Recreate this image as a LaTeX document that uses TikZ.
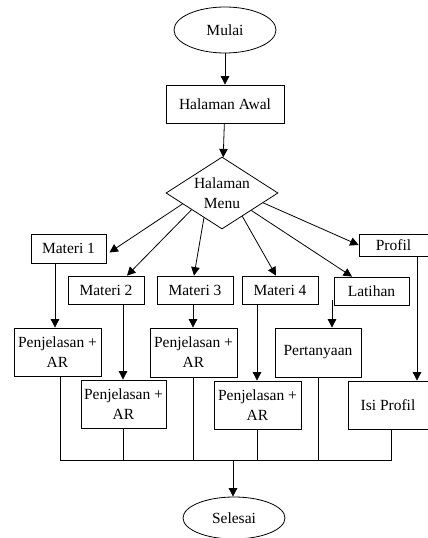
\documentclass[tikz,border=0pt]{standalone}
\usepackage{fontspec}
\setmainfont{Liberation Serif}
\usetikzlibrary{shapes.geometric,arrows.meta,calc}
\begin{document}
\begin{tikzpicture}[x=1pt,y=-1pt,
  every node/.style={font=\fontsize{15.5}{20}\selectfont, inner sep=0pt, align=center},
  box/.style={draw, line width=0.8pt, rectangle},
  oval/.style={draw, line width=0.8pt, ellipse},
  dec/.style={draw, line width=0.8pt, diamond},
  arr/.style={line width=0.8pt, -{Triangle[length=8.5pt,width=8.5pt]}},
  ln/.style={line width=0.8pt}]
\useasboundingbox (0,0) rectangle (428,538);
\clip (0,0) rectangle (428,538);
% nodes
\node[oval, minimum width=102pt, minimum height=46pt] (mulai) at (225,30) {Mulai};
\node[box, minimum width=118pt, minimum height=38pt] (awal) at (225,104) {Halaman Awal};
\node[dec, minimum width=112pt, minimum height=72pt, aspect=1.55] (menu) at (222,193) {};
\node at (222,183) {Halaman};
\node at (222,203) {Menu};
\node[box, minimum width=75pt, minimum height=29pt] (m1) at (68.5,248.5) {Materi 1};
\node[box, minimum width=76pt, minimum height=28pt] (m2) at (106,290) {Materi 2};
\node[box, minimum width=76pt, minimum height=28pt] (m3) at (195,290) {Materi 3};
\node[box, minimum width=76pt, minimum height=28pt] (m4) at (280,290) {Materi 4};
\node[box, minimum width=75pt, minimum height=28pt] (lat) at (371.5,291) {Latihan};
\node[box, minimum width=69pt, minimum height=22pt] (prof) at (393.5,245) {Profil};
\node[box, minimum width=87pt, minimum height=48pt] (p1) at (57.5,352) {Penjelasan +\\AR};
\node[box, minimum width=85pt, minimum height=48pt] (p2) at (123.5,404) {Penjelasan +\\AR};
\node[box, minimum width=87pt, minimum height=49pt] (p3) at (193.5,352.5) {Penjelasan +\\AR};
\node[box, minimum width=87pt, minimum height=48pt] (p4) at (257.5,405) {Penjelasan +\\AR};
\node[box, minimum width=86pt, minimum height=49pt] (pert) at (318,352.5) {Pertanyaan};
\node[box, minimum width=80pt, minimum height=48pt] (isi) at (388,405) {Isi Profil};
\node[oval, minimum width=102pt, minimum height=42pt] (sel) at (234,518) {Selesai};
\coordinate (bus) at (233,460);
% top arrows
\draw[arr] (mulai) -- (awal);
\draw[arr] (awal) -- (menu);
% diamond arrows
\draw[arr] ($(menu.west)!0.3!(menu.south)$) -- ([xshift=3pt,yshift=-4pt]m1.east);
\draw[arr] ($(menu.west)!0.46!(menu.south)$) -- ([xshift=21pt]m2.north);
\draw[arr] ($(menu.west)!0.68!(menu.south)$) -- ([xshift=-1pt]m3.north);
\draw[arr] ($(menu.south)!0.36!(menu.east)$) -- ([xshift=-4pt]m4.north);
\draw[arr] ($(menu.south)!0.52!(menu.east)$) -- ([xshift=-19.5pt]lat.north);
\draw[arr] ($(menu.south)!0.73!(menu.east)$) -- (prof.west);
% vertical arrows
\draw[arr] ([xshift=-13.5pt]m1.south) -- ([xshift=-13.5pt]m1.south |- p1.north);
\draw[arr] ([xshift=17pt]m2.south) -- ([xshift=17pt]m2.south |- p2.north);
\draw[arr] ([xshift=-2pt]m3.south) -- ([xshift=-2pt]m3.south |- p3.north);
\draw[arr] ([xshift=-23pt]m4.south) -- ([xshift=-23pt]m4.south |- p4.north);
\draw[arr] ([xshift=-39.5pt,yshift=5pt]lat.south) -- ([xshift=-39.5pt]lat.south |- pert.north);
\draw[arr] ([xshift=23.5pt]prof.south) -- ([xshift=23.5pt]prof.south |- isi.north);
% bus
\draw[ln] ([xshift=2.5pt]p1.south) -- ([xshift=2.5pt]p1.south |- bus) -- ([xshift=3pt]isi.south |- bus) -- ([xshift=3pt]isi.south);
\draw[ln] (p2.south) -- (p2.south |- bus);
\draw[ln] (p3.south) -- (p3.south |- bus);
\draw[ln] (p4.south) -- (p4.south |- bus);
\draw[ln] (pert.south) -- (pert.south |- bus);
\draw[arr] (bus) -- (bus |- sel.north);
\end{tikzpicture}
\end{document}
